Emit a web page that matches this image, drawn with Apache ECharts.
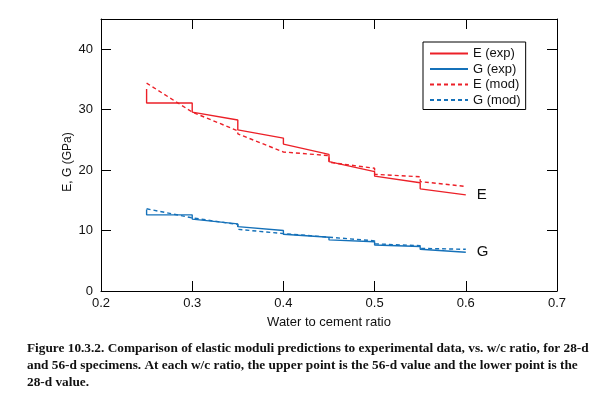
<!DOCTYPE html>
<html>
<head>
<meta charset="utf-8">
<script src="https://cdn.jsdelivr.net/npm/echarts@6/dist/echarts.min.js"></script>
<style>html,body{margin:0;padding:0;background:#fff}#c{width:613px;height:395px}</style>
</head>
<body>
<div id="c"></div>
<script>
// water to cement ratios
var wcRatio = [0.25, 0.30, 0.35, 0.40, 0.45, 0.50, 0.55, 0.60];
// experimental (upper = 56-d, lower = 28-d)
var eExpUpper = [33.4, 31.1, 28.3, 25.3, 22.6, 19.75, 17.9, 15.9];
var eExpLower = [31.1, 29.6, 26.65, 24.3, 21.4, 19.0, 16.9, 15.9];
var gExpUpper = [13.5, 12.6, 11.1, 10.0, 8.9, 8.15, 7.35, 6.4];
var gExpLower = [12.6, 11.9, 10.65, 9.4, 8.45, 7.6, 6.9, 6.4];
// model
var eModUpper = [34.4, 29.6, 26.5, 23.0, 22.4, 20.3, 18.9, 17.3];
var eModLower = [34.4, 29.3, 26.0, 22.9, 21.3, 19.3, 18.1, 17.3];
var gModUpper = [13.6, 12.1, 11.0, 9.5, 8.9, 8.3, 7.5, 6.9];
var gModLower = [13.6, 11.9, 10.2, 9.3, 8.6, 7.8, 7.05, 6.9];
var xTicks = [0.2, 0.3, 0.4, 0.5, 0.6, 0.7];
var yTicks = [0, 10, 20, 30, 40];
var seriesNames = ['E (exp)', 'G (exp)', 'E (mod)', 'G (mod)'];
var captionLines = [
  'Figure 10.3.2. Comparison of elastic moduli predictions to experimental data, vs. w/c ratio, for 28-d',
  'and 56-d specimens. At each w/c ratio, the upper point is the 56-d value and the lower point is the',
  '28-d value.'
];

function steps(up, low) {
  var pts = [];
  for (var i = 0; i < wcRatio.length; i++) {
    pts.push([wcRatio[i], up[i]]);
    pts.push([wcRatio[i], low[i]]);
  }
  return pts;
}

var RED = '#ec2028', BLUE = '#1571b9';
var font = 'Liberation Sans, Arial, sans-serif';

function mkSeries(name, data, color, dashed, endText) {
  var s = {
    name: name, type: 'line', data: data, symbol: 'none', animation: false,
    lineStyle: {color: color, width: 1.4, type: dashed ? [4, 3] : 'solid'},
    itemStyle: {color: color}, z: dashed ? 3 : 2
  };
  if (endText) {
    s.endLabel = {show: true, formatter: endText, distance: 11, color: '#111',
      fontSize: 15, fontFamily: font};
  }
  return s;
}

var chart = echarts.init(document.getElementById('c'), null, {renderer: 'canvas'});
function axisCommon() {
  return {
    axisLine: {show: true, onZero: false, lineStyle: {color: '#000', width: 1}},
    axisTick: {show: true, inside: true, length: 10, lineStyle: {color: '#000'}},
    splitLine: {show: false}
  };
}
chart.setOption({
  animation: false,
  grid: {left: 101, right: 56, top: 19, bottom: 104, containLabel: false},
  legend: {
    data: seriesNames, orient: 'vertical', left: 423, top: 42,
    itemWidth: 38, itemHeight: 14, itemGap: 2.5,
    padding: [5, 5, 3, 6], borderColor: '#000', borderWidth: 1,
    itemStyle: {color: 'transparent', borderWidth: 0, opacity: 0},
    textStyle: {fontSize: 13, fontFamily: font, color: '#111'}
  },
  xAxis: [
    Object.assign({
      type: 'value', min: 0.2, max: 0.7, interval: 0.1, position: 'bottom',
      name: 'Water to cement ratio', nameLocation: 'middle', nameGap: 25,
      nameTextStyle: {fontSize: 13, fontFamily: font, color: '#111'},
      axisLabel: {fontSize: 13, fontFamily: font, color: '#111', margin: 6,
        formatter: function (v) { return xTicks.indexOf(Math.round(v * 10) / 10) >= 0 ? v.toFixed(1) : ''; }}
    }, axisCommon()),
    Object.assign({
      type: 'value', min: 0.2, max: 0.7, interval: 0.1, position: 'top',
      axisLabel: {show: false}
    }, axisCommon())
  ],
  yAxis: [
    Object.assign({
      type: 'value', min: 0, max: 45, interval: 10, position: 'left',
      name: 'E, G (GPa)', nameLocation: 'middle', nameGap: 27, nameMoveOverlap: false,
      nameTextStyle: {fontSize: 12, fontFamily: font, color: '#111', padding: [0, 14, 0, 0]},
      axisLabel: {fontSize: 13, fontFamily: font, color: '#111', margin: 8, showMaxLabel: false,
        formatter: function (v) { return yTicks.indexOf(v) >= 0 ? String(v) : ''; }}
    }, axisCommon()),
    Object.assign({
      type: 'value', min: 0, max: 45, interval: 10, position: 'right',
      axisLabel: {show: false}
    }, axisCommon())
  ],
  series: [
    mkSeries(seriesNames[0], steps(eExpUpper, eExpLower), RED, false, 'E'),
    mkSeries(seriesNames[1], steps(gExpUpper, gExpLower), BLUE, false, 'G'),
    mkSeries(seriesNames[2], steps(eModUpper, eModLower), RED, true),
    mkSeries(seriesNames[3], steps(gModUpper, gModLower), BLUE, true)
  ],
  graphic: captionLines.map(function (t, i) {
    return {type: 'text', left: 27, top: 342 + i * 16.8,
      style: {text: t, fill: '#111', font: 'bold 13.3px "Liberation Serif", "Times New Roman", serif'}};
  })
});
</script>
</body>
</html>
